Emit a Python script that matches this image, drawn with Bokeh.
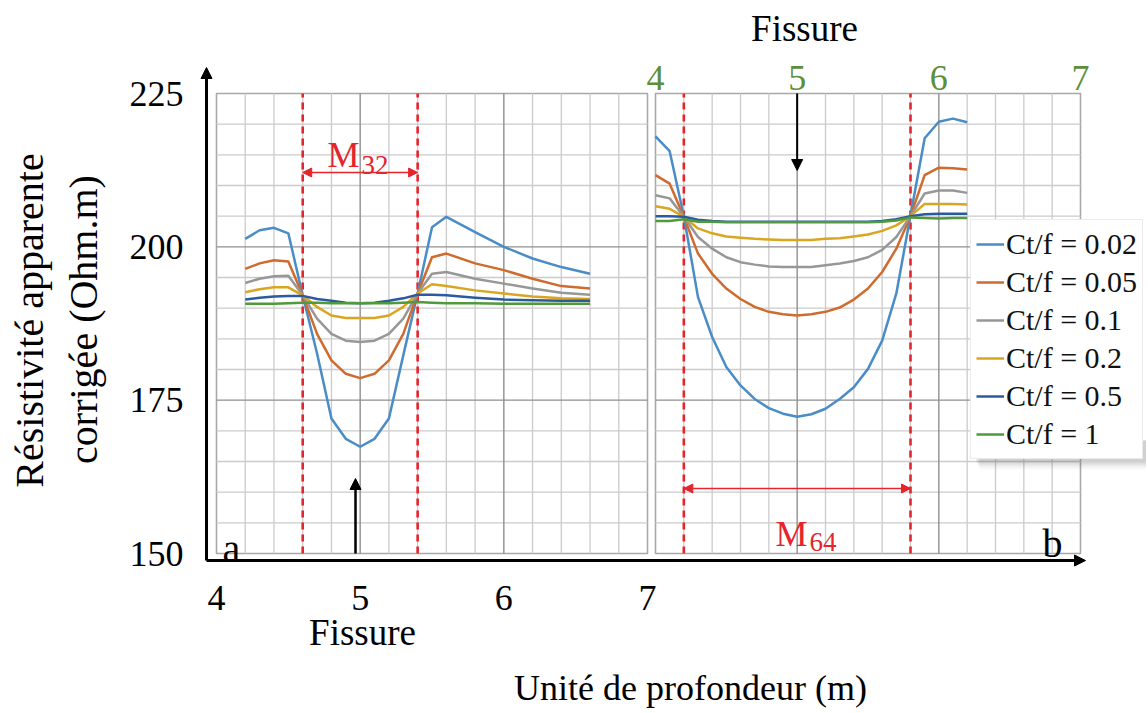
import numpy as np
from bokeh.plotting import figure
from bokeh.models import Range1d, Arrow, NormalHead, Legend, LegendItem
from bokeh.core.properties import value
from bokeh.embed import file_html
from bokeh.resources import INLINE

# ---------------- data ----------------
series_labels = ["Ct/f = 0.02", "Ct/f = 0.05", "Ct/f = 0.1", "Ct/f = 0.2", "Ct/f = 0.5", "Ct/f = 1"]
series_colors = ["#4A8CC6", "#CF6B2E", "#979797", "#DAA521", "#2C5AA0", "#4F9A3B"]

# panel a (M32)
x_a = [4.2, 4.3, 4.4, 4.5, 4.6, 4.7, 4.8, 4.9, 5.0, 5.1, 5.2, 5.3, 5.4, 5.5, 5.6, 5.8, 6.0, 6.2, 6.4, 6.6]
a_002 = [201.3, 202.7, 203.1, 202.2, 192.1, 182.6, 172.0, 168.7, 167.4, 168.7, 172.0, 182.3, 192.4, 203.2, 204.9, 202.4, 200.0, 198.1, 196.7, 195.6]
a_005 = [196.4, 197.3, 197.8, 197.6, 192.1, 185.8, 181.5, 179.3, 178.6, 179.3, 181.5, 185.8, 192.4, 198.3, 198.9, 197.3, 196.2, 194.8, 193.6, 193.2]
a_01 = [194.1, 194.8, 195.2, 195.3, 192.1, 188.3, 185.8, 184.7, 184.5, 184.7, 185.8, 188.3, 192.4, 195.6, 195.9, 194.8, 194.0, 193.2, 192.5, 192.2]
a_02 = [192.6, 193.1, 193.4, 193.4, 192.1, 190.2, 188.8, 188.4, 188.4, 188.4, 188.8, 190.2, 192.4, 193.9, 193.6, 192.9, 192.4, 191.9, 191.6, 191.5]
a_05 = [191.4, 191.7, 191.9, 192.0, 192.0, 191.5, 191.2, 190.9, 190.8, 190.9, 191.2, 191.6, 192.2, 192.2, 192.1, 191.7, 191.4, 191.3, 191.2, 191.2]
a_1 = [190.7, 190.7, 190.7, 190.8, 190.9, 190.9, 190.8, 190.8, 190.8, 190.8, 190.8, 190.9, 191.0, 190.9, 190.8, 190.8, 190.7, 190.7, 190.7, 190.7]

# panel b (M64)
x_b = [4.0, 4.1, 4.2, 4.3, 4.4, 4.5, 4.6, 4.7, 4.8, 4.9, 5.0, 5.1, 5.2, 5.3, 5.4, 5.5, 5.6, 5.7, 5.8, 5.9, 6.0, 6.1, 6.2]
b_002 = [218.0, 215.6, 205.0, 191.8, 185.3, 180.4, 177.4, 175.2, 173.7, 172.8, 172.3, 172.7, 173.6, 175.2, 177.1, 180.1, 184.7, 192.4, 205.1, 217.7, 220.4, 220.9, 220.3]
b_005 = [211.7, 210.3, 204.9, 198.9, 195.6, 193.2, 191.5, 190.2, 189.4, 189.0, 188.8, 189.0, 189.4, 190.1, 191.4, 193.2, 195.9, 199.7, 205.0, 211.7, 212.9, 212.8, 212.6]
b_01 = [208.4, 207.9, 204.9, 201.6, 199.7, 198.3, 197.5, 197.1, 196.8, 196.7, 196.7, 196.7, 197.0, 197.3, 197.7, 198.3, 199.5, 201.6, 205.0, 208.7, 209.2, 209.2, 208.8]
b_02 = [206.6, 206.2, 204.9, 203.0, 202.2, 201.7, 201.5, 201.3, 201.2, 201.1, 201.1, 201.1, 201.3, 201.4, 201.7, 202.0, 202.6, 203.5, 205.0, 207.0, 207.0, 207.0, 206.9]
b_05 = [205.0, 205.0, 204.9, 204.4, 204.2, 204.1, 204.1, 204.1, 204.1, 204.1, 204.1, 204.1, 204.1, 204.1, 204.1, 204.1, 204.2, 204.5, 205.0, 205.3, 205.4, 205.4, 205.4]
b_1 = [204.2, 204.2, 204.5, 204.1, 204.1, 204.0, 204.0, 204.0, 204.0, 204.0, 204.0, 204.0, 204.0, 204.0, 204.0, 204.0, 204.1, 204.3, 204.8, 204.7, 204.6, 204.7, 204.7]

y_ticks = [150, 175, 200, 225]
x_ticks = [4, 5, 6, 7]
zone_a = [4.6, 5.4]
zone_b = [4.2, 5.8]
fissure_x = 5.0

# ---------------- layout helpers ----------------
W, H = 1146, 711
FONT = value("Liberation Serif")


def X(cx):   # canvas px -> panel a data
    return 4 + (cx - 216) * 3 / 431.0


def XR(cx):  # canvas px -> panel b data
    return 4 + (cx - 655) * 3 / 425.0


def Y(cy):
    return 225 - (cy - 93) * 75 / 460.0


p = figure(width=W, height=H, output_backend="svg", toolbar_location=None,
           x_range=Range1d(X(0), X(W)), y_range=Range1d(Y(H), Y(0)),
           x_axis_location=None, y_axis_location=None, min_border=0)
p.extra_x_ranges = {"R": Range1d(XR(0), XR(W))}
p.outline_line_color = None
p.background_fill_color = "white"
p.border_fill_color = "white"
for g in p.grid:
    g.visible = False


def panel(rng):
    kw = {} if rng is None else {"x_range_name": rng}
    minor_x = [v for v in np.round(np.arange(4.2, 7.0, 0.2), 2) if v not in (5.0, 6.0)]
    minor_y = [v for v in np.arange(155, 225, 5) if v not in (175, 200)]
    p.quad(left=[4], right=[7], bottom=[150], top=[225], fill_color="white",
           line_color="#a8a8a8", line_width=1.6, **kw)
    p.segment(x0=minor_x, y0=150, x1=minor_x, y1=225, line_color="#cbcbcb", line_width=1.3, **kw)
    p.segment(x0=4, y0=minor_y, x1=7, y1=minor_y, line_color="#cbcbcb", line_width=1.3, **kw)
    p.segment(x0=[5, 6], y0=150, x1=[5, 6], y1=225, line_color="#8f8f8f", line_width=1.4, **kw)
    p.segment(x0=4, y0=[175, 200], x1=7, y1=[175, 200], line_color="#8f8f8f", line_width=1.4, **kw)


panel(None)
panel("R")

RED = "#E5252C"
p.segment(x0=zone_a, y0=150, x1=zone_a, y1=225, line_color=RED, line_width=2.6, line_dash="7 5")
p.segment(x0=zone_b, y0=150, x1=zone_b, y1=225, line_color=RED, line_width=2.6, line_dash="7 5",
          x_range_name="R")

# soft shadow under the legend box
for i, a in enumerate([0.10, 0.08, 0.06, 0.04, 0.02]):
    p.quad(left=[XR(976 + i)], right=[XR(W)], bottom=[Y(462 + 2 * i)], top=[Y(440)],
           fill_color="#555555", fill_alpha=a, line_color=None, x_range_name="R")

series_a = [a_002, a_005, a_01, a_02, a_05, a_1]
series_b = [b_002, b_005, b_01, b_02, b_05, b_1]
rends = []
for ya, yb, c in zip(series_a, series_b, series_colors):
    p.line(x_a, ya, line_color=c, line_width=2.5, line_join="round")
    r = p.line(x_b, yb, line_color=c, line_width=2.5, line_join="round", x_range_name="R")
    rends.append(r)


# arrows
def arrow(x0, y0, x1, y1, color, width, size, both=False, rng="default"):
    head = NormalHead(size=size, fill_color=color, line_color=color)
    a = Arrow(end=head, x_start=x0, y_start=y0, x_end=x1, y_end=y1, line_color=color,
              line_width=width, x_range_name=rng)
    if both:
        a.start = NormalHead(size=size, fill_color=color, line_color=color)
    else:
        a.start = None
    p.add_layout(a)


arrow(zone_a[0], Y(172), zone_a[1], Y(172), RED, 1.6, 9, both=True)
arrow(zone_b[0], Y(488), zone_b[1], Y(488), RED, 1.6, 9, both=True, rng="R")
arrow(X(355), 150, X(355), Y(478), "black", 2.5, 11)
arrow(fissure_x, 225, fissure_x, Y(170), "black", 2.0, 11, rng="R")
# main axes
arrow(X(206), Y(560), X(206), Y(67), "black", 3, 11)
arrow(X(206), Y(560), X(1085), Y(560), "black", 3, 11)


# texts
def txt(x, y, s, size, color="black", align="center", baseline="middle", angle=0.0, rng=None):
    kw = {} if rng is None else {"x_range_name": rng}
    p.text(x=x if isinstance(x, list) else [x], y=y if isinstance(y, list) else [y],
           text=s if isinstance(s, list) else [s],
           text_font=FONT, text_font_size=value(f"{size}px"), text_color=color,
           text_align=align, text_baseline=baseline, angle=angle, **kw)


txt([X(183)] * len(y_ticks), y_ticks, [str(v) for v in y_ticks], 36, align="right")
txt(x_ticks, [Y(597)] * len(x_ticks), [str(v) for v in x_ticks], 36)
GREEN = "#5C8E3C"
txt(x_ticks, [Y(77)] * len(x_ticks), [str(v) for v in x_ticks], 36, color=GREEN, rng="R")
txt(X(362), Y(632), "Fissure", 37)
txt(XR(804), Y(28), "Fissure", 37, rng="R")
txt(X(690), Y(687), "Unité de profondeur (m)", 36)
txt(X(29), Y(320), "Résistivité apparente", 40, angle=np.pi / 2)
txt(X(83), Y(319), "corrigée (Ohm.m)", 40, angle=np.pi / 2)
txt(X(222), Y(548), "a", 40, align="left", baseline="alphabetic")
txt(XR(1062), Y(543), "b", 40, align="right", baseline="alphabetic", rng="R")
txt(X(359), Y(154), "M", 36, color=RED, align="right", baseline="alphabetic")
txt(X(361), Y(164), "32", 27, color=RED, align="left", baseline="alphabetic")
txt(XR(807), Y(533), "M", 36, color=RED, align="right", baseline="alphabetic", rng="R")
txt(XR(809), Y(541), "64", 27, color=RED, align="left", baseline="alphabetic", rng="R")

legend = Legend(items=[LegendItem(label=lab, renderers=[r]) for lab, r in zip(series_labels, rends)],
                location=(970, H - 459), margin=0, padding=5, spacing=0,
                glyph_width=28, glyph_height=38, label_height=38, label_standoff=2,
                label_text_font="Liberation Serif", label_text_font_size="30px",
                label_text_color="#111111", background_fill_color="white", background_fill_alpha=1.0,
                border_line_color="#d8d8d8", border_line_width=1)
p.add_layout(legend)

open("out.html", "w").write(file_html(p, INLINE))
